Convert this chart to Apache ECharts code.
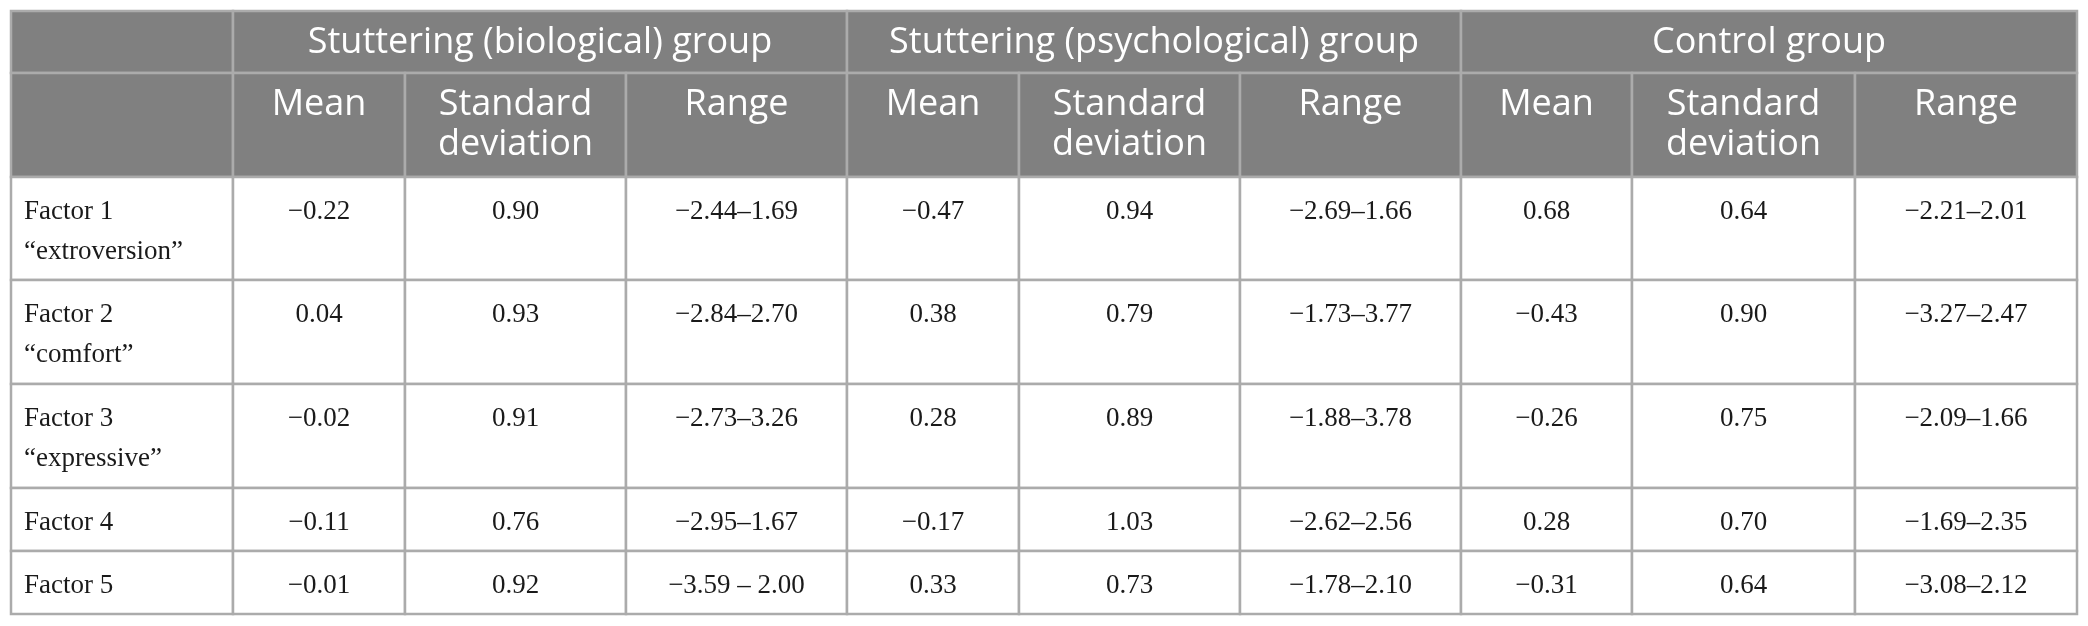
<!DOCTYPE html>
<html>
<head>
<meta charset="UTF-8">
<title>Factor scores by group</title>
<script src="https://cdn.jsdelivr.net/npm/echarts@6/dist/echarts.min.js"></script>
<style>
  html, body { margin: 0; padding: 0; background: #fff; }
  #main { width: 2088px; height: 626px; }
</style>
</head>
<body>
<div id="main"></div>
<script type="text/javascript">
// table content
var groups = ['Stuttering (biological) group', 'Stuttering (psychological) group', 'Control group'];
var statNames = ['Mean', 'Standard\ndeviation', 'Range'];
var factors = ['Factor 1\n“extroversion”', 'Factor 2\n“comfort”', 'Factor 3\n“expressive”', 'Factor 4', 'Factor 5'];

var bioMean = [-0.22, 0.04, -0.02, -0.11, -0.01];
var bioSD = [0.90, 0.93, 0.91, 0.76, 0.92];
var bioRange = ['−2.44–1.69', '−2.84–2.70', '−2.73–3.26', '−2.95–1.67', '−3.59 – 2.00'];

var psyMean = [-0.47, 0.38, 0.28, -0.17, 0.33];
var psySD = [0.94, 0.79, 0.89, 1.03, 0.73];
var psyRange = ['−2.69–1.66', '−1.73–3.77', '−1.88–3.78', '−2.62–2.56', '−1.78–2.10'];

var ctrlMean = [0.68, -0.43, -0.26, 0.28, -0.31];
var ctrlSD = [0.64, 0.90, 0.75, 0.70, 0.64];
var ctrlRange = ['−2.21–2.01', '−3.27–2.47', '−2.09–1.66', '−1.69–2.35', '−3.08–2.12'];

// layout (axis units = pixels)
var tableLeft = 11, tableTop = 11;
var colWidths = [222, 172, 221, 221, 172, 221, 221, 171, 223, 222];
var rowHeights = [62, 104, 103, 104, 104, 63, 63];

function fmt(v) {
    return (v < 0 ? '−' : '') + Math.abs(v).toFixed(2);
}

var colEdges = [tableLeft];
colWidths.forEach(function (w) { colEdges.push(colEdges[colEdges.length - 1] + w); });
var rowEdges = [tableTop];
rowHeights.forEach(function (h) { rowEdges.push(rowEdges[rowEdges.length - 1] + h); });

// build the cells
var cells = [];
function addCell(c0, c1, r, text, kind) {
    cells.push({ c0: c0, c1: c1, r: r, text: text, kind: kind });
}
addCell(0, 1, 0, '', 'head1');
groups.forEach(function (g, i) { addCell(1 + i * 3, 4 + i * 3, 0, g, 'head1'); });
addCell(0, 1, 1, '', 'head2');
groups.forEach(function (g, i) {
    statNames.forEach(function (s, j) { addCell(1 + i * 3 + j, 2 + i * 3 + j, 1, s, 'head2'); });
});
var bodyCols = [
    bioMean.map(fmt), bioSD.map(fmt), bioRange,
    psyMean.map(fmt), psySD.map(fmt), psyRange,
    ctrlMean.map(fmt), ctrlSD.map(fmt), ctrlRange
];
factors.forEach(function (f, r) {
    addCell(0, 1, r + 2, f, 'label');
    bodyCols.forEach(function (col, j) { addCell(j + 1, j + 2, r + 2, col[r], 'body'); });
});

var myChart = echarts.init(document.getElementById('main'));

var option = {
    animation: false,
    grid: { left: 0, right: 0, top: 0, bottom: 0 },
    xAxis: { type: 'value', min: 0, max: 2088, show: false },
    yAxis: { type: 'value', min: 0, max: 626, inverse: true, show: false },
    series: [{
        type: 'custom',
        coordinateSystem: 'cartesian2d',
        data: cells.map(function (c) {
            return [colEdges[c.c0], rowEdges[c.r], colEdges[c.c1], rowEdges[c.r + 1]];
        }),
        renderItem: function (params, api) {
            var c = cells[params.dataIndex];
            var p0 = api.coord([api.value(0), api.value(1)]);
            var p1 = api.coord([api.value(2), api.value(3)]);
            var isHead = c.kind === 'head1' || c.kind === 'head2';
            var children = [{
                type: 'rect',
                shape: { x: p0[0], y: p0[1], width: p1[0] - p0[0], height: p1[1] - p0[1] },
                style: {
                    fill: isHead ? '#808080' : '#ffffff',
                    stroke: '#ababab',
                    lineWidth: 2.5
                }
            }];
            if (c.text) {
                var tx = c.kind === 'label' ? p0[0] + 13 : (p0[0] + p1[0]) / 2;
                var ty, va;
                if (c.kind === 'head1') { ty = (p0[1] + p1[1]) / 2 + 1; va = 'middle'; }
                else if (c.kind === 'head2') { ty = p0[1] + 12; va = 'top'; }
                else { ty = p0[1] + 15; va = 'top'; }
                children.push({
                    type: 'text',
                    style: {
                        text: c.text,
                        x: tx,
                        y: ty,
                        align: c.kind === 'label' ? 'left' : 'center',
                        verticalAlign: va,
                        lineHeight: 40,
                        fill: isHead ? '#ffffff' : '#1a1a1a',
                        fontFamily: isHead ? '"Open Sans", sans-serif' : '"Liberation Serif", serif',
                        fontSize: isHead ? 36 : 27
                    }
                });
            }
            return { type: 'group', children: children };
        }
    }]
};

option && myChart.setOption(option);
</script>
</body>
</html>
